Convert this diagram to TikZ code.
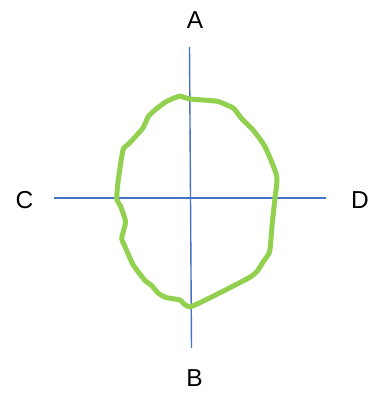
\documentclass[tikz,border=0pt]{standalone}
\usepackage{fontspec}
\setmainfont{Liberation Sans}
\usetikzlibrary{positioning}
\definecolor{axisblue}{RGB}{68,114,196}
\definecolor{blobgreen}{RGB}{146,208,80}

\begin{document}
\begin{tikzpicture}[
    x=1pt, y=-1pt,
    axis/.style={draw=axisblue, line width=1.4pt},
    blob/.style={draw=blobgreen, line width=5pt, line join=round},
    letter/.style={font=\fontsize{24.5}{28}\selectfont, inner sep=0pt}
]
\useasboundingbox (0,0) rectangle (382,395);

% Axis ends
\coordinate (top) at (189.5,47);
\coordinate (bottom) at (191.5,348);
\coordinate (left) at (54,198);
\coordinate (right) at (326,198);

% Labels
\node[letter] (A) at (195,20) {A};
\node[letter] (B) at (194.5,378) {B};
\node[letter] (C) at (24.5,200) {C};
\node[letter] (D) at (360,200) {D};

% Axes
\draw[axis] (top) -- (bottom);
\draw[axis] (left) -- (right);

% Closed curve
\draw[blob] plot[smooth cycle, tension=0.35] coordinates {
    (180,96) (190,99) (216.7,101.2) (226.7,105) (234,108.7) (242,119)
    (253,130) (265,146.7) (276.7,176) (275,198) (273.3,213.3) (272.3,222)
    (271.5,233) (269.5,252) (263.3,261.7) (256.7,271.7) (246.7,279)
    (191.7,306.3) (180,300) (166,297.5) (158,293) (151.7,285.5) (145,280.5)
    (133.3,265) (125,246.7) (121.7,238) (125.5,222) (120.5,206) (116.7,199)
    (118.3,180) (123,150) (128.5,144) (136,136) (143.3,127.5) (148.3,116.5)
    (155,110) (166,101.7) (176.7,97)
};

\end{tikzpicture}
\end{document}
